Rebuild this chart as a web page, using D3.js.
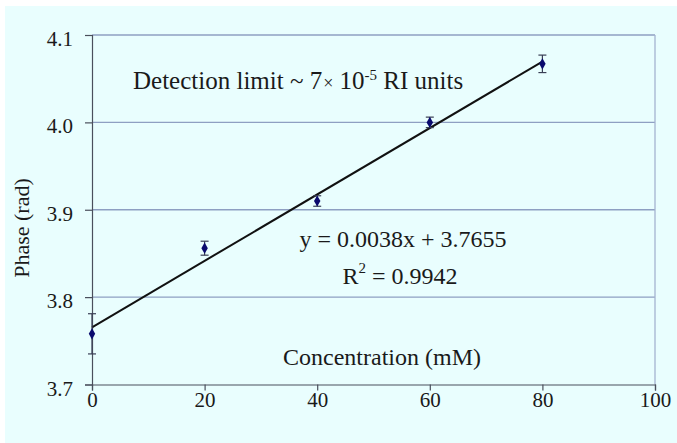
<!DOCTYPE html>
<html>
<head>
<meta charset="utf-8">
<script src="https://cdn.jsdelivr.net/npm/d3@7"></script>
<style>
  html, body { margin: 0; padding: 0; background: #ffffff; }
  svg { display: block; }
  text { font-family: "Liberation Serif", "Times New Roman", serif; fill: #1a1a1a; }
</style>
</head>
<body>
<svg id="chart" width="677" height="443"></svg>
<script>
// Measured phase vs. concentration, with error bars
const concentration = [0, 20, 40, 60, 80];
const phase = [3.758, 3.856, 3.910, 4.000, 4.067];
const phaseErr = [0.023, 0.008, 0.006, 0.006, 0.010];

// Linear fit parameters
const slope = 0.0038;
const intercept = 3.7655;
const rSquared = 0.9942;

const xTicks = [0, 20, 40, 60, 80, 100];
const yTicks = [3.7, 3.8, 3.9, 4.0, 4.1];

const svg = d3.select("#chart");
const W = 677, H = 443;
const plot = { left: 92, top: 35, right: 655, bottom: 384.5 };

svg.append("rect").attr("x", 5).attr("y", 6).attr("width", W - 5).attr("height", H - 6)
  .attr("fill", "#e9fefe");

const x = d3.scaleLinear().domain([0, 100]).range([plot.left, plot.right]);
const y = d3.scaleLinear().domain([3.7, 4.1]).range([plot.bottom, plot.top]);

// Gridlines and plot frame
svg.append("g").selectAll("line").data(yTicks.filter(d => d > 3.7)).join("line")
  .attr("x1", plot.left).attr("x2", plot.right)
  .attr("y1", d => y(d)).attr("y2", d => y(d))
  .attr("stroke", "#8e9fc2").attr("stroke-width", 1.3);
svg.append("line").attr("x1", x(100)).attr("x2", x(100))
  .attr("y1", plot.top).attr("y2", plot.bottom)
  .attr("stroke", "#a5b3d0").attr("stroke-width", 1.3);

// Axes
const xAxis = d3.axisBottom(x).tickValues(xTicks).tickSize(6).tickPadding(2).tickFormat(d3.format("d"));
const yAxis = d3.axisLeft(y).tickValues(yTicks).tickSize(7).tickPadding(12).tickFormat(d3.format(".1f"));

const gx = svg.append("g").attr("transform", `translate(0,${plot.bottom})`).call(xAxis);
const gy = svg.append("g").attr("transform", `translate(${plot.left},0)`).call(yAxis);
[gx, gy].forEach(g => {
  g.select(".domain").attr("stroke", "#4a4f5c").attr("stroke-width", 1.2);
  g.selectAll(".tick line").attr("stroke", "#4a4f5c").attr("stroke-width", 1.2);
  g.selectAll(".tick text").attr("font-family", "Liberation Serif, serif")
    .attr("font-size", 21).attr("fill", "#1a1a1a");
});
gy.selectAll(".tick text").attr("dy", "0.5em");

// Fit line
svg.append("line")
  .attr("x1", x(0)).attr("y1", y(intercept))
  .attr("x2", x(80)).attr("y2", y(intercept + slope * 80))
  .attr("stroke", "#111111").attr("stroke-width", 2);

// Error bars
const eb = svg.append("g").attr("stroke", "#3a3f55").attr("stroke-width", 1.2);
concentration.forEach((c, i) => {
  const cx = x(c), lo = y(phase[i] - phaseErr[i]), hi = y(phase[i] + phaseErr[i]);
  eb.append("line").attr("x1", cx).attr("x2", cx).attr("y1", lo).attr("y2", hi);
  eb.append("line").attr("x1", cx - 4).attr("x2", cx + 4).attr("y1", lo).attr("y2", lo);
  eb.append("line").attr("x1", cx - 4).attr("x2", cx + 4).attr("y1", hi).attr("y2", hi);
});

// Data markers (diamonds)
svg.append("g").selectAll("path").data(concentration).join("path")
  .attr("d", d3.symbol(d3.symbolDiamond, 36))
  .attr("transform", (d, i) => `translate(${x(d)},${y(phase[i])})`)
  .attr("fill", "#0a0a6e");

// Axis titles
svg.append("text").attr("transform", "translate(29,228) rotate(-90)")
  .attr("text-anchor", "middle").attr("font-size", 22).text("Phase (rad)");
svg.append("text").attr("x", 382).attr("y", 365)
  .attr("text-anchor", "middle").attr("font-size", 24).text("Concentration (mM)");

// Annotations
const det = svg.append("text").attr("x", 133).attr("y", 89).attr("font-size", 25);
det.append("tspan").text("Detection limit ~ 7");
det.append("tspan").attr("font-size", 18).attr("dx", 1).text("×");
det.append("tspan").text(" 10");
det.append("tspan").attr("font-size", 15).attr("dy", -9).text("-5");
det.append("tspan").attr("dy", 9).text(" RI units");

svg.append("text").attr("x", 403).attr("y", 247).attr("text-anchor", "middle")
  .attr("font-size", 24).text(`y = ${slope.toFixed(4)}x + ${intercept.toFixed(4)}`);
const r2 = svg.append("text").attr("x", 400).attr("y", 284).attr("text-anchor", "middle").attr("font-size", 24);
r2.append("tspan").text("R");
r2.append("tspan").attr("font-size", 15).attr("dy", -11).text("2");
r2.append("tspan").attr("dy", 11).text(` = ${rSquared.toFixed(4)}`);
</script>
</body>
</html>
